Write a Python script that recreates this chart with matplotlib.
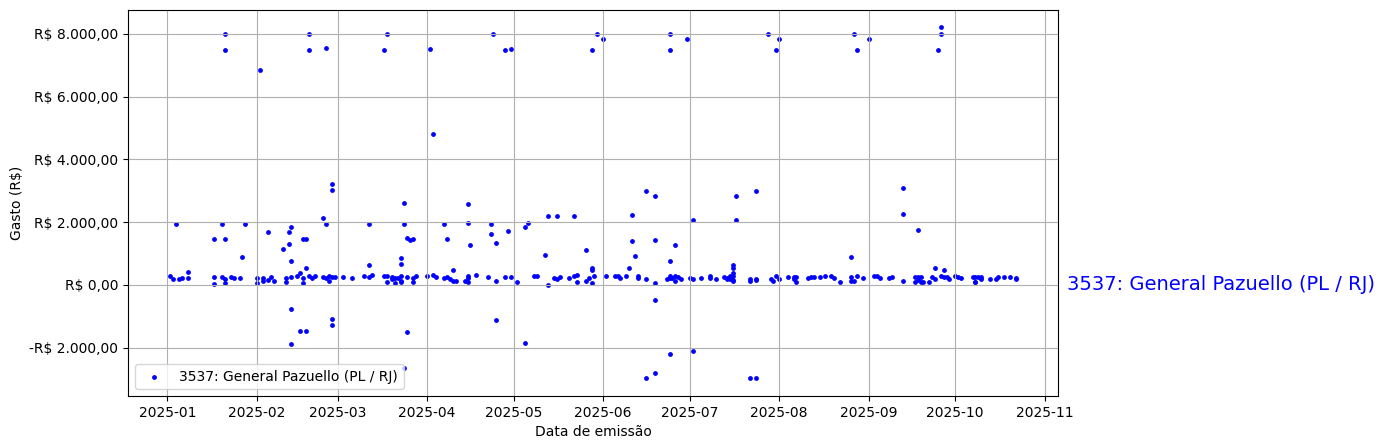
import matplotlib
matplotlib.use('Agg')
import matplotlib.pyplot as plt
import matplotlib.transforms as mtransforms
from matplotlib.ticker import FuncFormatter
import pandas as pd

deputado = '3537: General Pazuello (PL / RJ)'

# (data de emissao, valor em R$)
datas = [
    '2025-01-02', '2025-01-03', '2025-01-04', '2025-01-05', '2025-01-06', '2025-01-08', '2025-01-08',
    '2025-01-17', '2025-01-17', '2025-01-17', '2025-01-20', '2025-01-21', '2025-01-21', '2025-01-21',
    '2025-01-20', '2025-01-21', '2025-01-21', '2025-01-23', '2025-01-24', '2025-01-26', '2025-01-27',
    '2025-01-28',
    '2025-02-01', '2025-02-01', '2025-02-02', '2025-02-03', '2025-02-03', '2025-02-05', '2025-02-05',
    '2025-02-06', '2025-02-07', '2025-02-10', '2025-02-11', '2025-02-11', '2025-02-12', '2025-02-12',
    '2025-02-13', '2025-02-13', '2025-02-13', '2025-02-13', '2025-02-13', '2025-02-15', '2025-02-16',
    '2025-02-17', '2025-02-17', '2025-02-17', '2025-02-16', '2025-02-18', '2025-02-18', '2025-02-18',
    '2025-02-19', '2025-02-19', '2025-02-19', '2025-02-20', '2025-02-21', '2025-02-24', '2025-02-25',
    '2025-02-25', '2025-02-24', '2025-02-25', '2025-02-26', '2025-02-26', '2025-02-27', '2025-02-28',
    '2025-02-27', '2025-02-27', '2025-02-27', '2025-02-27',
    '2025-03-03', '2025-03-06', '2025-03-10', '2025-03-12', '2025-03-12', '2025-03-12', '2025-03-13',
    '2025-03-17', '2025-03-17', '2025-03-18', '2025-03-18', '2025-03-18', '2025-03-20', '2025-03-20',
    '2025-03-21', '2025-03-21', '2025-03-22', '2025-03-23', '2025-03-23', '2025-03-23', '2025-03-24',
    '2025-03-24', '2025-03-23', '2025-03-23', '2025-03-24', '2025-03-25', '2025-03-25', '2025-03-26',
    '2025-03-27', '2025-03-25', '2025-03-27', '2025-03-28', '2025-03-27',
    '2025-04-01', '2025-04-02', '2025-04-03', '2025-04-03', '2025-04-04', '2025-04-07', '2025-04-07',
    '2025-04-08', '2025-04-08', '2025-04-09', '2025-04-10', '2025-04-10', '2025-04-11', '2025-04-14',
    '2025-04-15', '2025-04-15', '2025-04-15', '2025-04-15', '2025-04-15', '2025-04-16', '2025-04-18',
    '2025-04-22', '2025-04-23', '2025-04-23', '2025-04-24', '2025-04-25', '2025-04-25', '2025-04-25',
    '2025-04-28', '2025-04-28', '2025-04-29', '2025-04-30', '2025-04-30',
    '2025-05-02', '2025-05-05', '2025-05-05', '2025-05-06', '2025-05-08', '2025-05-09', '2025-05-13',
    '2025-05-12', '2025-05-13', '2025-05-15', '2025-05-16', '2025-05-17', '2025-05-16', '2025-05-20',
    '2025-05-22', '2025-05-22', '2025-05-23', '2025-05-23', '2025-05-26', '2025-05-26', '2025-05-27',
    '2025-05-28', '2025-05-28', '2025-05-28', '2025-05-28', '2025-05-29', '2025-05-30',
    '2025-06-01', '2025-06-02', '2025-06-05', '2025-06-06', '2025-06-07', '2025-06-09', '2025-06-10',
    '2025-06-11', '2025-06-11', '2025-06-12', '2025-06-13', '2025-06-13', '2025-06-16', '2025-06-16',
    '2025-06-16', '2025-06-19', '2025-06-19', '2025-06-19', '2025-06-19', '2025-06-19', '2025-06-23',
    '2025-06-24', '2025-06-24', '2025-06-24', '2025-06-24', '2025-06-24', '2025-06-24', '2025-06-25',
    '2025-06-26', '2025-06-26', '2025-06-26', '2025-06-27', '2025-06-28', '2025-06-30',
    '2025-07-01', '2025-07-02', '2025-07-02', '2025-07-02', '2025-07-05', '2025-07-08', '2025-07-08',
    '2025-07-10', '2025-07-13', '2025-07-14', '2025-07-14', '2025-07-15', '2025-07-15', '2025-07-15',
    '2025-07-16', '2025-07-16', '2025-07-16', '2025-07-16', '2025-07-16', '2025-07-16', '2025-07-17',
    '2025-07-17', '2025-07-22', '2025-07-22', '2025-07-22', '2025-07-24', '2025-07-24', '2025-07-24',
    '2025-07-24', '2025-07-28', '2025-07-29', '2025-07-30', '2025-07-31', '2025-07-31',
    '2025-08-01', '2025-08-01', '2025-08-04', '2025-08-06', '2025-08-06', '2025-08-07', '2025-08-07',
    '2025-08-11', '2025-08-12', '2025-08-13', '2025-08-15', '2025-08-17', '2025-08-19', '2025-08-20',
    '2025-08-22', '2025-08-26', '2025-08-26', '2025-08-26', '2025-08-27', '2025-08-27', '2025-08-28',
    '2025-08-28', '2025-08-30',
    '2025-09-01', '2025-09-03', '2025-09-04', '2025-09-05', '2025-09-08', '2025-09-09', '2025-09-13',
    '2025-09-13', '2025-09-13', '2025-09-17', '2025-09-17', '2025-09-18', '2025-09-18', '2025-09-18',
    '2025-09-19', '2025-09-19', '2025-09-20', '2025-09-22', '2025-09-23', '2025-09-24', '2025-09-24',
    '2025-09-25', '2025-09-26', '2025-09-26', '2025-09-26', '2025-09-27', '2025-09-27', '2025-09-28',
    '2025-09-29', '2025-10-01', '2025-10-02', '2025-10-03',
    '2025-10-07', '2025-10-08', '2025-10-08', '2025-10-08', '2025-10-09', '2025-10-10', '2025-10-10',
    '2025-10-13', '2025-10-15', '2025-10-16', '2025-10-18', '2025-10-20', '2025-10-22', '2025-10-22',
]

valores = [
    290, 180, 1950, 180, 215, 235, 415,
    1460, 245, 20, 1950, 8000, 7500, 1460,
    245, 180, 65, 265, 215, 215, 890,
    1950,
    215, 55, 6850, 215, 120, 1690, 150,
    245, 120, 1140, 215, 85, 1690, 1300,
    1850, 760, 245, -780, -1890, 280, 375,
    215, 55, 1460, -1470, 1460, 550, -1470,
    8000, 7500, 280, 215, 280, 2135, 1950,
    7550, 245, 215, 120, 280, 245, 245,
    3230, 3040, -1100, -1290,
    245, 215, 280, 245, 1950, 630, 300,
    7500, 280, 8000, 280, 85, 245, 180,
    215, 55, 215, 120, 280, 85, 2615,
    1950, 855, 660, -2655, 1495, -1515, 1430,
    1460, 245, 215, 280, 85,
    280, 7520, 4800, 310, 245, 1950, 215,
    1460, 245, 180, 470, 120, 120, 120,
    2590, 1970, 215, 280, 85, 1270, 310,
    245, 1950, 1620, 8000, 120, 1345, -1130,
    7500, 245, 1720, 7520, 245,
    85, 1845, -1865, 1975, 280, 280, 2200,
    950, -10, 215, 180, 245, 2200, 215,
    280, 2200, 85, 310, 1110, 120, 215,
    535, 470, 55, 7500, 280, 8000,
    7840, 280, 280, 280, 215, 280, 535,
    2240, 1400, 920, 280, 215, 180, 2980,
    -2985, 2820, 1430, 55, -490, -2825, 180,
    760, -2220, 280, 8000, 7500, 215, 215,
    280, 1270, 120, 245, 180, 7840,
    215, 2070, -2120, 180, 215, 280, 215,
    180, 245, 215, 180, 215, 180, 280,
    630, 540, 280, 150, 120, 380, 2840,
    2070, 180, 120, -2985, 150, 180, -2985,
    2980, 8000, 180, 120, 280, 7500,
    180, 7840, 245, 245, 180, 245, 85,
    215, 245, 245, 245, 280, 280, 215,
    85, 245, 890, 120, 8000, 120, 7500,
    280, 215,
    7840, 280, 280, 215, 215, 245, 120,
    3095, 2260, 245, 85, 245, 1750, 150,
    245, 85, 85, 85, 245, 535, 180,
    7500, 280, 8000, 8210, 470, 245, 245,
    180, 280, 245, 215,
    245, 85, 85, 245, 245, 245, 180,
    180, 180, 245, 245, 245, 215, 180,
]


def reais(v, pos):
    s = f'{abs(v):,.2f}'.replace(',', 'X').replace('.', ',').replace('X', '.')
    return ('-' if v < 0 else '') + 'R$ ' + s


df = pd.DataFrame({'data': pd.to_datetime(datas), 'valor': valores})

fig = plt.figure(figsize=(13.84, 4.48), dpi=100)
ax = fig.add_axes([0.0925, 0.116, 0.672, 0.862])

ax.scatter(df['data'], df['valor'], s=6, color='blue', label=deputado)
ax.text(1.01, 0, deputado, color='blue', fontsize=14, va='center',
        transform=mtransforms.blended_transform_factory(ax.transAxes, ax.transData))

ax.yaxis.set_major_formatter(FuncFormatter(reais))
ax.set_xlabel('Data de emissão')
ax.set_ylabel('Gasto (R$)')
ax.grid(True)
ax.legend(loc='lower left')

fig.savefig('out.png', dpi=100)
